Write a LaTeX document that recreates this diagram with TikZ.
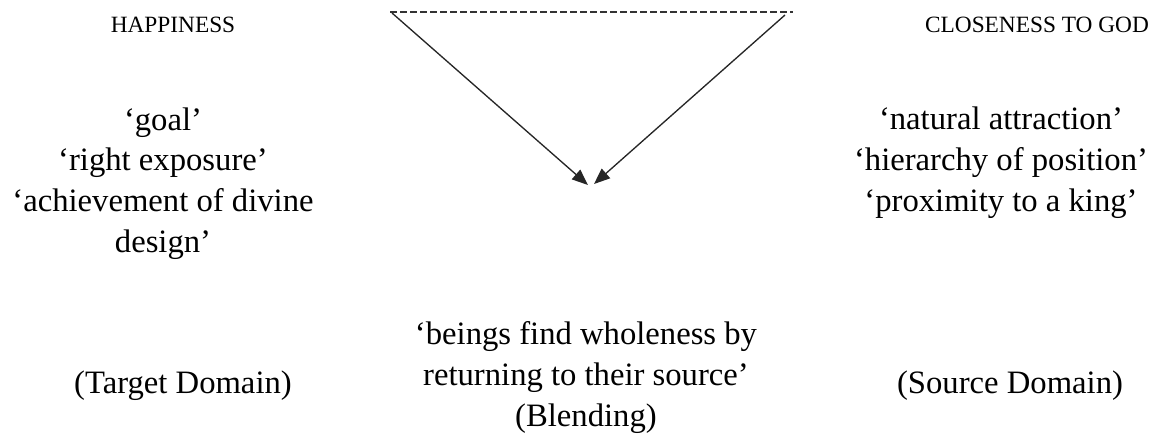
\documentclass[tikz,border=0pt]{standalone}
\usepackage{fontspec}
\setmainfont{Liberation Serif}
\usetikzlibrary{arrows.meta}
\begin{document}
\begin{tikzpicture}[x=0.75pt,y=-0.75pt,
  body/.style={font=\fontsize{24.5pt}{30.5pt}\selectfont, align=center, anchor=base, inner sep=0pt},
  head/.style={font=\fontsize{17.5pt}{21pt}\selectfont, anchor=base, inner sep=0pt},
  conn/.style={line width=1pt, draw=black!85, -{Triangle[length=12pt,width=9.5pt]}},
  dash line/.style={line width=1pt, draw=black!80, dash pattern=on 5pt off 2.5pt}]
\useasboundingbox (0,0) rectangle (1159,435);
\node[head] (hap) at (173,33) {HAPPINESS};
\node[head] (clo) at (1037,33) {CLOSENESS TO GOD};
% anchor=base of a multi-line node is the baseline of its last line
\node[body] (left) at (163,252) {‘goal’\\‘right exposure’\\‘achievement of divine\\design’};
\node[body] (right) at (1001,211) {‘natural attraction’\\‘hierarchy of position’\\‘proximity to a king’};
\node[body] (target) at (183,393) {(Target Domain)};
\node[body] (blend) at (586,426) {‘beings find wholeness by\\returning to their source’\\(Blending)};
\node[body] (source) at (1010,393) {(Source Domain)};
\coordinate (tl) at (390,12);
\coordinate (tr) at (793,12);
\coordinate (al) at (392,13);
\coordinate (ar) at (785,15);
\coordinate (tipL) at (588,185);
\coordinate (tipR) at (594,184);
\draw[dash line] (tl) -- (tr);
\draw[conn] (al) -- (tipL);
\draw[conn] (ar) -- (tipR);
\end{tikzpicture}
\end{document}
